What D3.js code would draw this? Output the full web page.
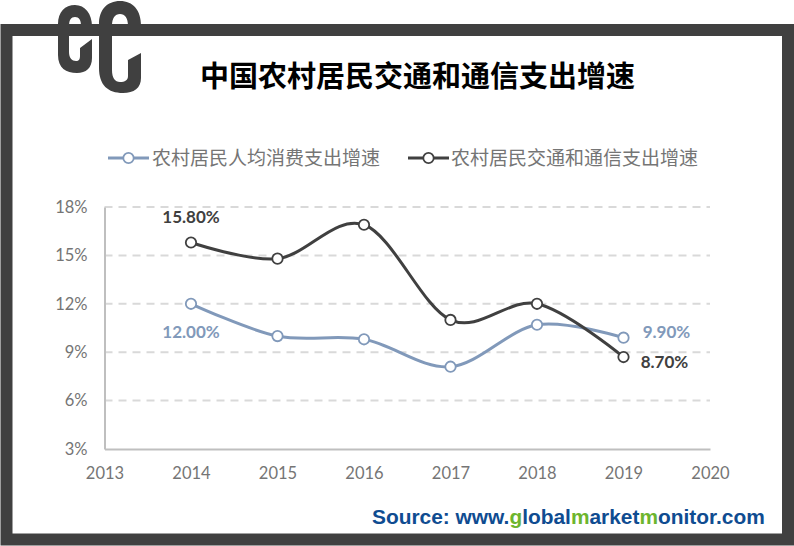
<!DOCTYPE html>
<html>
<head>
<meta charset="utf-8">
<script src="https://d3js.org/d3.v7.min.js"></script>
<style>
  html, body { margin: 0; padding: 0; background: white; }
  svg { display: block; }
</style>
</head>
<body>
<svg id="chart" width="794" height="546"></svg>
<script>
var years = [2014, 2015, 2016, 2017, 2018, 2019];
var consumption = [12.0, 10.0, 9.8, 8.1, 10.7, 9.9];
var transport = [15.8, 14.8, 16.9, 11.0, 12.0, 8.7];
var xTicks = [2013, 2014, 2015, 2016, 2017, 2018, 2019, 2020];
var yTicks = [3, 6, 9, 12, 15, 18];
var titleText = "中国农村居民交通和通信支出增速";
var seriesNames = ["农村居民人均消费支出增速", "农村居民交通和通信支出增速"];
var sourceParts = [["Source: www.", 0], ["g", 1], ["lobal", 0], ["m", 1], ["arket", 0], ["m", 1], ["onitor.com", 0]];

var blue = "#8199ba", dark = "#404040", grey = "#757575";
var latin = "Lato, 'Open Sans', sans-serif";
var cjk = "'Noto Sans CJK SC', sans-serif";

var translate = function(x, y) { return "translate(" + x + "," + y + ")"; };

var svg = d3.select("#chart");

// frame
svg.append("rect")
  .attr("x", 6.5).attr("y", 30)
  .attr("width", 781.5).attr("height", 509.5)
  .attr("fill", "white")
  .attr("stroke", dark)
  .attr("stroke-width", 12);

// the two hooks on the top left corner of the frame
svg.append("path")
  .attr("fill", dark)
  .attr("d", "M92,39 L92,58 C92,68 86,73 77,73 C66,73 58,68 58,55 L58,24 C58,12 65,5 75,5 C85,5 92,14 92,26 L81,26 C81,20 79,17 75,17 C71,17 69,20 69,26 L69,52 C69,58 72,61 76,61 C79,61 80,59 80,56 L80,48 Z");
svg.append("path")
  .attr("fill", dark)
  .attr("d", "M141,53 L141,78 C141,88 134,93 123,93 C108,93 99,85 99,68 L99,24 C99,10 107,1 120,1 C133,1 141,10 141,26 L128,26 C128,18 125,14 120,14 C115,14 112,18 112,26 L112,70 C112,78 115,82 120,82 C125,82 128,80 128,76 L128,60 Z");

svg.append("text")
  .attr("x", 417.5).attr("y", 87)
  .attr("text-anchor", "middle")
  .style("font", "bold 29px " + cjk)
  .style("fill", "black")
  .text(titleText);

var margin = { top: 207, right: 84, bottom: 97, left: 104.5 };
var plotWidth = 794 - margin.left - margin.right;
var plotHeight = 546 - margin.top - margin.bottom;

var x = d3.scaleLinear().domain([2013, 2020]).range([0, plotWidth]);
var y = d3.scaleLinear().domain([3, 18]).range([plotHeight, 0]);

var plot = svg.append("g").attr("transform", translate(margin.left, margin.top));

// dashed grid
plot.selectAll(".grid")
  .data(yTicks.slice(1))
  .enter().append("line")
  .attr("class", "grid")
  .attr("x1", 0).attr("x2", plotWidth)
  .attr("y1", function(d) { return y(d); })
  .attr("y2", function(d) { return y(d); })
  .attr("stroke", "#d9d9d9")
  .attr("stroke-width", 2)
  .attr("stroke-dasharray", "8 6");

var gx = plot.append("g")
  .attr("transform", translate(0, plotHeight))
  .call(d3.axisBottom(x).tickValues(xTicks).tickFormat(d3.format("d")).tickSize(0).tickPadding(18));
var gy = plot.append("g")
  .call(d3.axisLeft(y).tickValues(yTicks).tickFormat(function(d) { return d + "%"; }).tickSize(0).tickPadding(17));

plot.selectAll(".domain").attr("stroke", "#bfbfbf").attr("stroke-width", 2);
plot.selectAll(".tick text")
  .style("font", "16.5px " + latin)
  .style("fill", grey);

var line = d3.line()
  .x(function(d) { return x(d.year); })
  .y(function(d) { return y(d.value); })
  .curve(d3.curveCatmullRom.alpha(0));

var series = [
  { values: consumption, color: blue },
  { values: transport, color: dark }
];

series.forEach(function(s) {
  var pts = years.map(function(yr, i) { return { year: yr, value: s.values[i] }; });
  plot.append("path")
    .attr("d", line(pts))
    .attr("fill", "none")
    .attr("stroke", s.color)
    .attr("stroke-width", 3);
  plot.selectAll(null)
    .data(pts)
    .enter().append("circle")
    .attr("cx", function(d) { return x(d.year); })
    .attr("cy", function(d) { return y(d.value); })
    .attr("r", 5.2)
    .attr("fill", "white")
    .attr("stroke", s.color)
    .attr("stroke-width", 1.8);
});

// value labels, only first and last point
var labels = [
  { series: 0, index: 0, dx: 0, dy: 28 },
  { series: 1, index: 0, dx: 0, dy: -25 },
  { series: 0, index: 5, dx: 43, dy: -6 },
  { series: 1, index: 5, dx: 41, dy: 5 }
];
plot.selectAll(".value")
  .data(labels)
  .enter().append("text")
  .attr("class", "value")
  .attr("x", function(d) { return x(years[d.index]) + d.dx; })
  .attr("y", function(d) { return y(series[d.series].values[d.index]) + d.dy; })
  .attr("text-anchor", "middle")
  .attr("dy", ".35em")
  .style("font", "bold 17px " + latin)
  .style("fill", function(d) { return series[d.series].color; })
  .text(function(d) { return series[d.series].values[d.index].toFixed(2) + "%"; });

// legend
var legend = svg.selectAll(".legend")
  .data(seriesNames)
  .enter().append("g")
  .attr("class", "legend")
  .attr("transform", function(d, i) { return translate(i == 0 ? 108 : 408, 158); });

legend.append("line")
  .attr("x1", 0).attr("x2", 41)
  .attr("stroke", function(d, i) { return series[i].color; })
  .attr("stroke-width", 3);
legend.append("circle")
  .attr("cx", 20.5)
  .attr("r", 5.2)
  .attr("fill", "white")
  .attr("stroke", function(d, i) { return series[i].color; })
  .attr("stroke-width", 1.8);
legend.append("text")
  .attr("x", function(d, i) { return i == 0 ? 44 : 43; })
  .attr("dy", ".36em")
  .style("font", "19px " + cjk)
  .style("fill", grey)
  .text(function(d) { return d; });

// source line
var source = svg.append("text")
  .attr("x", 372).attr("y", 524)
  .style("font", "bold 20.9px 'Liberation Sans', Arial, sans-serif");
source.selectAll("tspan")
  .data(sourceParts)
  .enter().append("tspan")
  .style("fill", function(d) { return d[1] ? "#6db52d" : "#0f4c91"; })
  .text(function(d) { return d[0]; });
</script>
</body>
</html>
